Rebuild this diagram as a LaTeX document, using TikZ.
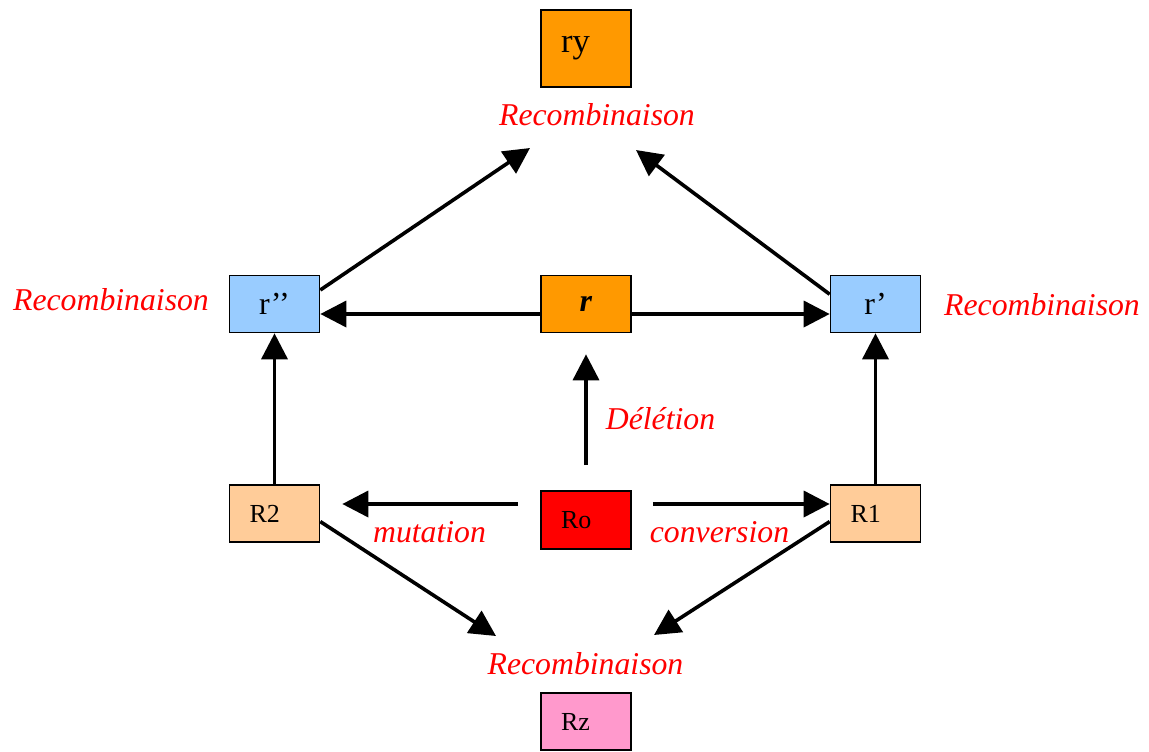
\documentclass[tikz,border=0pt]{standalone}
\usepackage{fontspec}
\setmainfont{Liberation Serif}
\usetikzlibrary{arrows.meta}
\definecolor{orangebox}{HTML}{FF9900}
\definecolor{bluebox}{HTML}{99CCFF}
\definecolor{peachbox}{HTML}{FFCC99}
\definecolor{redbox}{HTML}{FF0000}
\definecolor{pinkbox}{HTML}{FF99CC}
\definecolor{labred}{HTML}{FF0000}
\tikzset{
  box/.style={draw=black, line width=1.2pt, minimum width=67.5pt, minimum height=42.75pt, inner sep=0pt},
  cbox/.style={box, font=\fontsize{24}{26}\selectfont, align=center},
  lbox/.style={box, font=\fontsize{19.5}{22}\selectfont, text width=37.5pt, inner xsep=15pt, align=left},
  lab/.style={text=labred, font=\fontsize{23.8}{26}\selectfont\itshape, anchor=base, inner sep=0pt},
  arr/.style={line width=2.7pt, -{Triangle[length=19.5pt,width=19.5pt]}}
}
\begin{document}
\begin{tikzpicture}[x=0.75pt,y=-0.75pt]
\useasboundingbox (0,0) rectangle (1149,751);
% boxes
\node[lbox, fill=orangebox, minimum height=57.75pt, text depth=6pt, font=\fontsize{26}{28}\selectfont] (ry) at (586,48.5) {ry};
\node[cbox, fill=bluebox] (r2) at (274.5,304) {r’’};
\node[cbox, fill=orangebox] (r) at (586,304) {\textbf{\textit{r}}};
\node[cbox, fill=bluebox] (r1p) at (875.5,304) {r’};
\node[lbox, fill=peachbox] (R2) at (274.5,513.5) {R2};
\node[lbox, fill=redbox, minimum height=43.5pt] (Ro) at (586,520) {Ro};
\node[lbox, fill=peachbox] (R1) at (875.5,513.5) {R1};
\node[lbox, fill=pinkbox] (Rz) at (586,721.5) {Rz};
% labels
\node[lab] (l1) at (597,125) {Recombinaison};
\node[lab] (l2) at (111,310) {Recombinaison};
\node[lab] (l3) at (1042,315) {Recombinaison};
\node[lab] (l4) at (585.5,674) {Recombinaison};
\node[lab] (l5) at (660.5,429) {Délétion};
\node[lab] (l6) at (429.5,542) {mutation};
\node[lab] (l7) at (719.5,542) {conversion};
% free ends
\coordinate (tipL) at (530,148);
\coordinate (tipR) at (636,150);
\coordinate (tipBL) at (496,636);
\coordinate (tipBR) at (654,635);
\coordinate (hm) at (0,504);
\coordinate (hr) at (0,314);
% connectors
\draw[arr] (r2.17.5) -- (tipL);
\draw[arr] (r1p.168.6) -- (tipR);
\draw[arr] (r.west |- hr) -- (r2.east |- hr);
\draw[arr] (r.east |- hr) -- (r1p.west |- hr);
\draw[arr, shorten <=18.75pt, shorten >=15.75pt] (Ro.north) -- (r.south);
\draw[arr] (R2.north) -- (r2.south);
\draw[arr] (R1.north) -- (r1p.south);
\draw[arr, shorten <=16.5pt, shorten >=16.5pt] (Ro.west |- hm) -- (R2.east |- hm);
\draw[arr, shorten <=15.75pt] (Ro.east |- hm) -- (R1.west |- hm);
\draw[arr] (R2.-10.8) -- (tipBL);
\draw[arr] (R1.190.8) -- (tipBR);
\end{tikzpicture}
\end{document}
